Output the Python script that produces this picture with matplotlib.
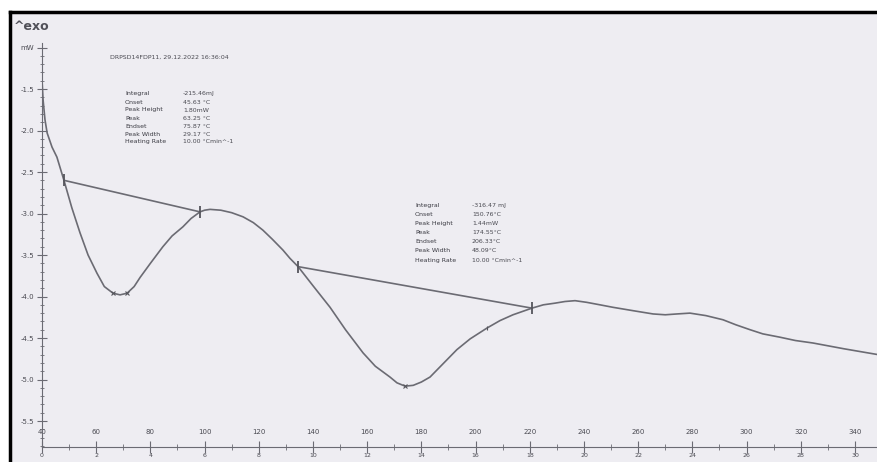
import matplotlib.pyplot as plt
from matplotlib.lines import Line2D
from matplotlib.patches import Rectangle
import numpy as np

# DSC-Kurve (Temperatur in °C, Wärmestrom in mW)
temp = [40.0, 40.4, 41.1, 41.9, 43.7, 45.5, 48.1, 51.0, 54.0, 57.0, 60.3, 63.0,
        66.2, 68.8, 71.4, 74.0, 76.2, 80.0, 84.6, 88.0, 92.0, 95.0, 98.3, 100.0,
        102.0, 106.0, 110.0, 114.2, 118.0, 121.5, 125.0, 128.9, 131.5, 134.5,
        140.0, 146.3, 152.0, 158.5, 163.0, 168.4, 171.0, 174.0, 177.0, 180.0,
        183.2, 188.0, 193.1, 198.0, 204.2, 209.0, 213.8, 220.8, 225.0, 229.3,
        233.0, 236.7, 241.0, 245.9, 250.7, 258.0, 265.5, 270.0, 274.3, 279.1,
        285.0, 291.3, 296.0, 301.3, 306.0, 312.3, 318.0, 324.5, 336.0, 348.5]
flux = [-1.39, -1.63, -1.87, -2.03, -2.20, -2.32, -2.60, -2.93, -3.23, -3.50,
        -3.72, -3.88, -3.96, -3.98, -3.96, -3.88, -3.77, -3.60, -3.40, -3.27,
        -3.16, -3.06, -2.98, -2.96, -2.95, -2.96, -2.99, -3.04, -3.11, -3.20,
        -3.31, -3.44, -3.54, -3.64, -3.87, -4.13, -4.40, -4.68, -4.84, -4.97,
        -5.04, -5.08, -5.07, -5.03, -4.97, -4.81, -4.64, -4.51, -4.38, -4.29,
        -4.22, -4.14, -4.10, -4.08, -4.06, -4.05, -4.07, -4.10, -4.13, -4.17,
        -4.21, -4.22, -4.21, -4.20, -4.23, -4.28, -4.34, -4.40, -4.45, -4.49,
        -4.53, -4.56, -4.63, -4.70]

# Basislinien der beiden Peaks
base1_t = [48.1, 98.3]
base1_v = [-2.60, -2.98]
base2_t = [134.5, 220.8]
base2_v = [-3.64, -4.14]
# Peakminima und weitere Markierungen
peak_t = [66.2, 71.4, 174.0]
peak_v = [-3.96, -3.96, -5.08]
mark_t = [204.2]
mark_v = [-4.38]

labels = ['Integral', 'Onset', 'Peak Height', 'Peak', 'Endset', 'Peak Width', 'Heating Rate']
vals1 = ['-215.46mJ', '45.63 °C', '1.80mW', '63.25 °C', '75.87 °C', '29.17 °C', '10.00 °Cmin^-1']
vals2 = ['-316.47 mJ', '150.76°C', '1.44mW', '174.55°C', '206.33°C', '48.09°C', '10.00 °Cmin^-1']

W, H = 878, 462
bg = '#eeedf2'
grey = '#6b6b73'
txt = '#4a4a52'

fig = plt.figure(figsize=(W / 100, H / 100), dpi=100)
fig.patch.set_facecolor('white')
fig.add_artist(Rectangle((11 / W, 0), 1, (H - 12) / H, transform=fig.transFigure,
                         facecolor=bg, edgecolor='none', zorder=0))
fig.add_artist(Line2D([10.5 / W, 10.5 / W], [0, (H - 11.5) / H], color='black', lw=2.5))
fig.add_artist(Line2D([10 / W, 1], [(H - 12) / H, (H - 12) / H], color='black', lw=2.5))

ax = fig.add_axes([42 / W, 15 / H, 836 / W, 435 / H])
ax.set_facecolor('none')
ax.set_xlim(40, 348.5)
ax.set_ylim(-5.813, -0.572)

for s in ['top', 'right']:
    ax.spines[s].set_visible(False)
ax.spines['left'].set_color(grey)
ax.spines['bottom'].set_color(grey)
ax.spines['left'].set_bounds(-5.813, -0.95)

ax.plot(temp, flux, color=grey, lw=1.2, solid_joinstyle='round')
ax.plot(base1_t, base1_v, color=grey, lw=1.2)
ax.plot(base2_t, base2_v, color=grey, lw=1.2)
ax.plot(base1_t + base2_t, base1_v + base2_v, ls='none', marker='|', ms=9, mew=1.3, color='#55555c')
ax.plot(peak_t, peak_v, ls='none', marker='x', ms=3, mew=0.8, color='#55555c')
ax.plot(mark_t, mark_v, ls='none', marker='|', ms=3, mew=0.8, color='#55555c')

# y-Achse
yt = np.arange(-5.5, -0.9, 0.5)
ax.set_yticks(yt)
ax.set_yticklabels([f'{v:.1f}' for v in yt[:-1]] + ['mW'])
ax.set_yticks(np.arange(-5.8, -0.95, 0.1), minor=True)
ax.tick_params(axis='y', which='major', direction='inout', length=7, color=grey,
               labelsize=5, labelcolor=txt, pad=2)
ax.tick_params(axis='y', which='minor', direction='inout', length=3, color=grey)

# x-Achse: Temperatur oben, Zeit unten
ax.set_xticks(np.arange(40, 341, 20))
ax.set_xticks(np.arange(50, 341, 20), minor=True)
ax.tick_params(axis='x', which='major', direction='inout', length=8, color=grey,
               labelsize=5, labelcolor=txt, pad=-17)
ax.tick_params(axis='x', which='minor', direction='inout', length=5, color=grey)

sec = ax.secondary_xaxis('bottom', functions=(lambda t: (t - 40) / 10, lambda m: m * 10 + 40))
sec.set_xticks(np.arange(0, 31, 2))
sec.tick_params(direction='inout', length=0, labelsize=4.5, labelcolor=txt, pad=4)
sec.spines['bottom'].set_visible(False)

fig.text(14 / W, 1 - 26 / H, '^exo', fontsize=9, fontweight='bold', color='#505058', va='center')
fig.text(110 / W, 1 - 57 / H, 'DRPSD14FDP11, 29.12.2022 16:36:04', fontsize=4.5, color=txt, va='center')

for i, (lab, v) in enumerate(zip(labels, vals1)):
    y = 1 - (94 + i * 8) / H
    fig.text(125 / W, y, lab, fontsize=4.5, color='#3a3a42', va='center')
    fig.text(183 / W, y, v, fontsize=4.5, color=txt, va='center')

for i, (lab, v) in enumerate(zip(labels, vals2)):
    y = 1 - (205 + i * 9.2) / H
    fig.text(415 / W, y, lab, fontsize=4.5, color='#3a3a42', va='center')
    fig.text(472 / W, y, v, fontsize=4.5, color=txt, va='center')

fig.savefig('out.png', dpi=100)
